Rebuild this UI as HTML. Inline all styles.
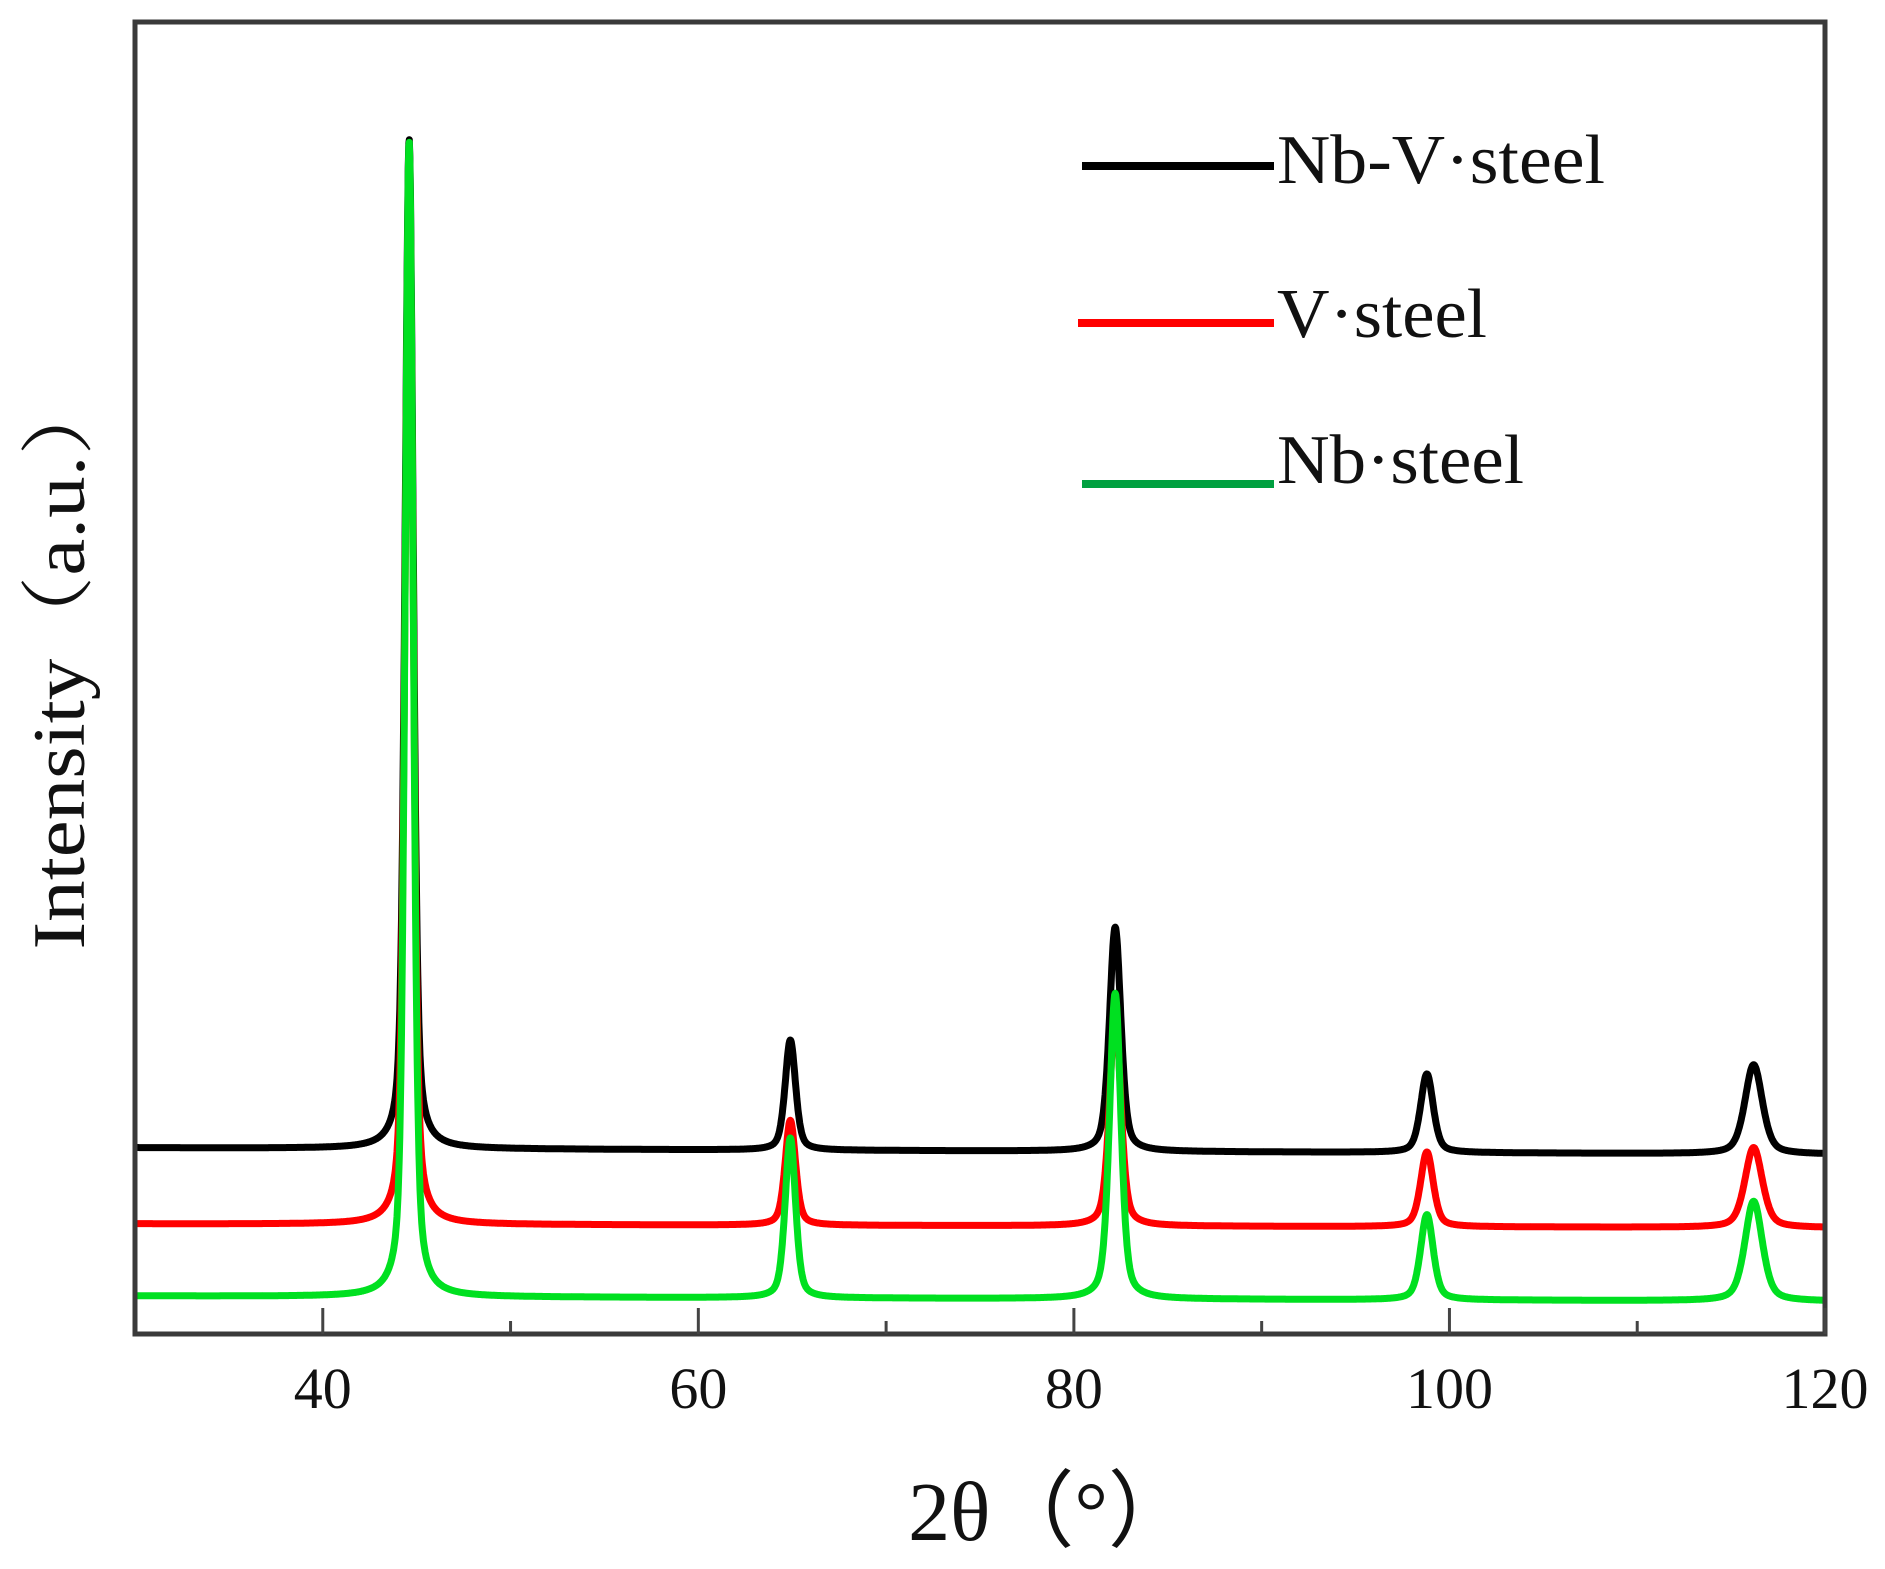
<!DOCTYPE html>
<html><head><meta charset="utf-8"><style>
html,body{margin:0;padding:0;background:#fff;}
svg{display:block;}
text{font-family:"Liberation Serif",serif;fill:#111;}
</style></head><body>
<svg id="chart" width="1885" height="1569" viewBox="0 0 1885 1569" xmlns="http://www.w3.org/2000/svg">
<g id="series"></g>
<rect x="135" y="22" width="1690" height="1312" fill="none" stroke="#3a3a3a" stroke-width="5"/>
<g id="xticks"></g>
<text x="1050" y="1540" font-size="84" text-anchor="middle">2θ（°）</text>
<text transform="translate(84,661) rotate(-90)" font-size="74" text-anchor="middle" textLength="577" lengthAdjust="spacingAndGlyphs" style="font-family:'Liberation Serif','Noto Serif CJK SC',serif">Intensity（a.u.）</text>
<g>
<line x1="1082" y1="166" x2="1274" y2="166" stroke="#000" stroke-width="8"/>
<text x="1277" y="183" font-size="70" textLength="328" lengthAdjust="spacingAndGlyphs">Nb-V·steel</text>
<line x1="1078" y1="323" x2="1274" y2="323" stroke="#f00" stroke-width="8"/>
<text x="1277" y="337" font-size="70" textLength="210" lengthAdjust="spacingAndGlyphs">V·steel</text>
<line x1="1082" y1="484" x2="1274" y2="484" stroke="#00a040" stroke-width="8"/>
<text x="1277" y="483" font-size="70" textLength="247" lengthAdjust="spacingAndGlyphs">Nb·steel</text>
</g>
</svg>
<script>
const xTickValues=[40,60,80,100,120];
const xMinorTicks=[50,70,90,110];
const peakPositions=[44.6,64.9,82.2,98.8,116.2];
const peakWidths=[0.26,0.33,0.36,0.4,0.55];
const seriesNames=["Nb steel","V steel","Nb-V steel"];
const seriesColors=["#00e020","#ff0000","#000000"];
const baselineStart=[29,84,142];
const baselineEnd=[25,81,137];
const heightsNb=[881,122,233,65,76];
const heightsV=[800,80,160,57,61];
const heightsNbV=[770,84,171,60,68];
const seriesHeights=[heightsNb,heightsV,heightsNbV];

const X0=30,X1=120,PX0=135,PX1=1825,Y0=0,Y1=1000,PY0=1334,PY1=22;
const xs=v=>PX0+(v-X0)/(X1-X0)*(PX1-PX0);
const ys=v=>PY0+(v-Y0)/(Y1-Y0)*(PY1-PY0);
const NS="http://www.w3.org/2000/svg";
const sg=document.getElementById('series');
const shape=(u)=>0.45/(1+u*u)+0.55*Math.exp(-Math.LN2*u*u);
seriesHeights.forEach((h,si)=>{
  let d="";
  for(let x=X0;x<=X1+1e-9;x+=0.03){
    const t=(x-X0)/(X1-X0);
    let v=baselineStart[si]+(baselineEnd[si]-baselineStart[si])*t;
    peakPositions.forEach((p,i)=>{v+=h[i]*shape((x-p)/peakWidths[i]);});
    d+=(d?"L":"M")+xs(x).toFixed(1)+","+ys(v).toFixed(1);
  }
  const path=document.createElementNS(NS,'path');
  path.setAttribute('d',d);
  path.setAttribute('fill','none');
  path.setAttribute('stroke',seriesColors[si]);
  path.setAttribute('stroke-width','7');
  path.setAttribute('stroke-linejoin','round');
  
  
  sg.insertBefore(path,sg.firstChild);
});
const xt=document.getElementById('xticks');
xTickValues.forEach(v=>{
  const l=document.createElementNS(NS,'line');
  l.setAttribute('x1',xs(v));l.setAttribute('x2',xs(v));
  l.setAttribute('y1',PY0);l.setAttribute('y2',PY0-26);
  l.setAttribute('stroke','#444');l.setAttribute('stroke-width','3');
  
  
  xt.appendChild(l);
  const t=document.createElementNS(NS,'text');
  t.setAttribute('x',xs(v));t.setAttribute('y',1408);
  t.setAttribute('font-size','58');t.setAttribute('text-anchor','middle');
  t.setAttribute('fill','#333');
  t.textContent=v;
  
  
  xt.appendChild(t);
});
xMinorTicks.forEach(v=>{
  const l=document.createElementNS(NS,'line');
  l.setAttribute('x1',xs(v));l.setAttribute('x2',xs(v));
  l.setAttribute('y1',PY0);l.setAttribute('y2',PY0-13);
  l.setAttribute('stroke','#444');l.setAttribute('stroke-width','3');
  
  
  xt.appendChild(l);
});
</script>
</body></html>
